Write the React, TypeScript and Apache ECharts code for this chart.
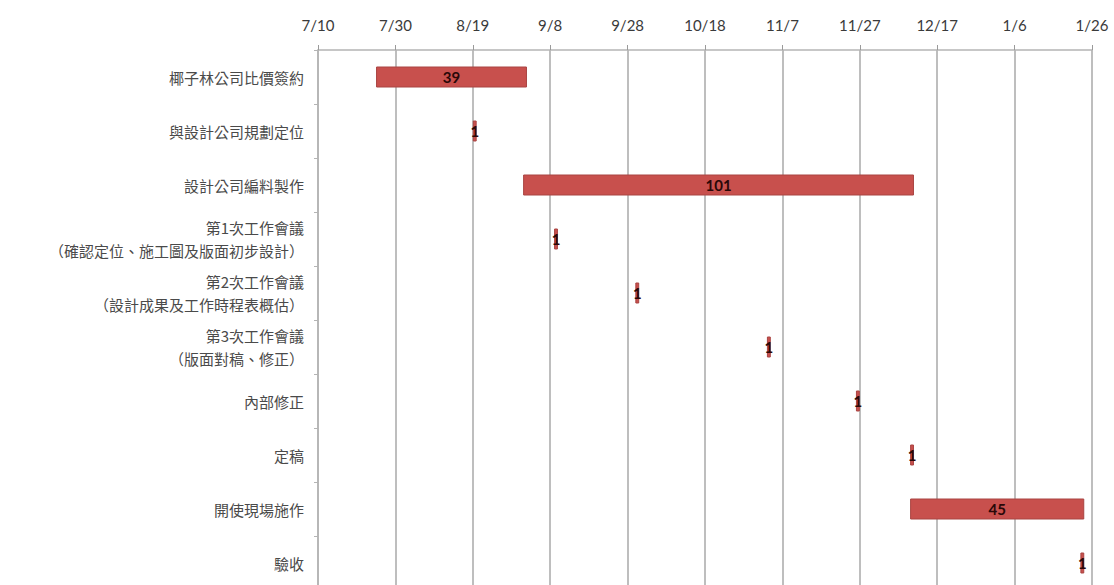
import React, { useEffect, useRef } from "react";
import * as echarts from "echarts";

const categories = [
  "椰子林公司比價簽約",
  "與設計公司規劃定位",
  "設計公司編料製作",
  "第1次工作會議\n（確認定位、施工圖及版面初步設計）",
  "第2次工作會議\n（設計成果及工作時程表概估）",
  "第3次工作會議\n（版面對稿、修正）",
  "內部修正",
  "定稿",
  "開使現場施作",
  "驗收",
];

const startDates = [
  "2013-07-25",
  "2013-08-19",
  "2013-09-01",
  "2013-09-09",
  "2013-09-30",
  "2013-11-03",
  "2013-11-26",
  "2013-12-10",
  "2013-12-10",
  "2014-01-23",
];

const durations = [39, 1, 101, 1, 1, 1, 1, 1, 45, 1];

const axisStart = "2013-07-10";
const tickLabels = ["7/10", "7/30", "8/19", "9/8", "9/28", "10/18", "11/7", "11/27", "12/17", "1/6", "1/26"];
const tickStep = 20;

function dayOffset(iso: string, base: string): number {
  const p = iso.split("-").map(Number);
  const b = base.split("-").map(Number);
  const a = Date.UTC(p[0], p[1] - 1, p[2]);
  const c = Date.UTC(b[0], b[1] - 1, b[2]);
  return Math.round((a - c) / 86400000);
}

export default function App() {
  const ref = useRef<HTMLDivElement>(null);

  useEffect(() => {
    if (!ref.current) return;
    const chart = echarts.init(ref.current, null, { renderer: "svg" });
    const offsets = startDates.map((d) => dayOffset(d, axisStart));
    chart.setOption({
      animation: false,
      backgroundColor: "#ffffff",
      grid: { left: 318, right: 22, top: 50, bottom: 10, containLabel: false },
      xAxis: {
        type: "value",
        position: "top",
        min: 0,
        max: (tickLabels.length - 1) * tickStep,
        interval: tickStep,
        axisLine: { show: true, lineStyle: { color: "#b4b4b4", width: 1.5 } },
        axisTick: { show: true, inside: false, length: 5, lineStyle: { color: "#9a9a9a" } },
        splitLine: { show: true, lineStyle: { color: "#a8a8a8", width: 1.5 } },
        axisLabel: {
          margin: 18,
          fontFamily: "Lato",
          fontSize: 15,
          color: "#3a3a3a",
          formatter: (v: number) => tickLabels[Math.round(v / tickStep)] ?? "",
        },
      },
      yAxis: {
        type: "category",
        inverse: true,
        data: categories,
        axisLine: { show: true, lineStyle: { color: "#b4b4b4", width: 1.5 } },
        axisTick: { show: true, length: 4, lineStyle: { color: "#b4b4b4" } },
        axisLabel: {
          margin: 14,
          fontFamily: "Noto Sans CJK TC",
          fontSize: 15,
          lineHeight: 23,
          color: "#4a4a4a",
          align: "right",
        },
      },
      series: [
        {
          type: "bar",
          stack: "gantt",
          data: offsets,
          barWidth: 21,
          itemStyle: { color: "transparent" },
          silent: true,
        },
        {
          type: "bar",
          stack: "gantt",
          data: durations,
          barWidth: 21,
          itemStyle: { color: "#C8504D", borderColor: "#a94442", borderWidth: 1 },
          label: {
            show: true,
            position: "inside",
            fontFamily: "Lato",
            fontWeight: "bold",
            fontSize: 15,
            color: "#2a0808",
          },
        },
      ],
    });
    return () => chart.dispose();
  }, []);

  return (
    <div
      ref={ref}
      style={{ position: "absolute", left: 0, top: 0, width: 1114, height: 600 }}
    />
  );
}
